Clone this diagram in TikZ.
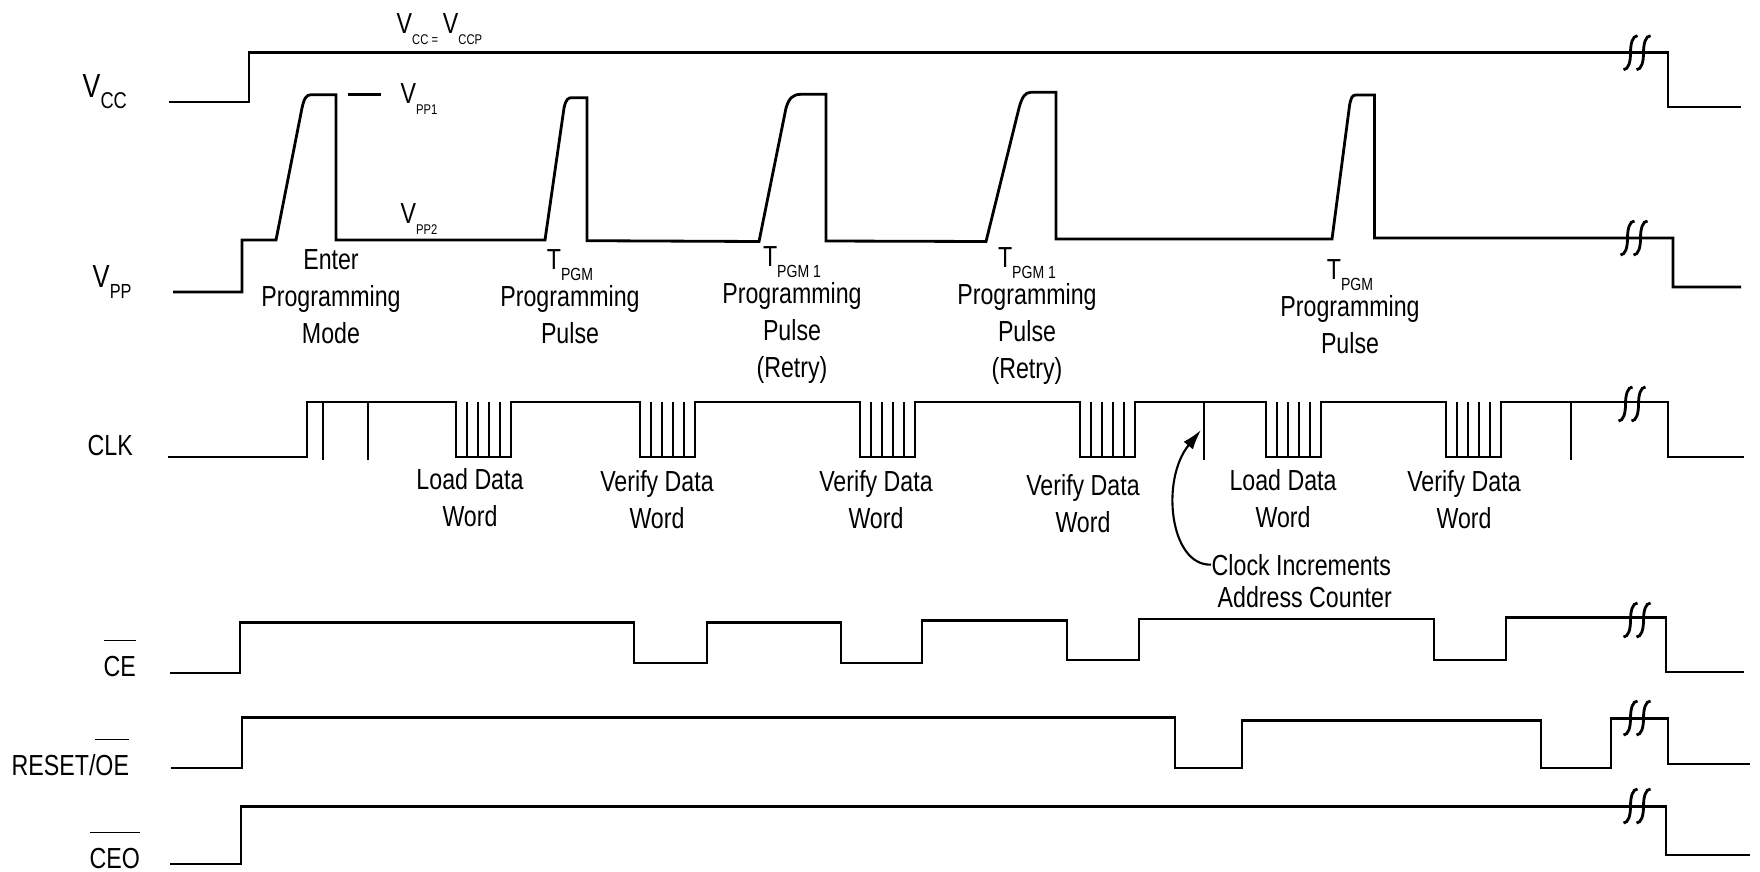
\documentclass[tikz,border=0pt]{standalone}
\usepackage{fontspec}
\setmainfont[FakeStretch=0.8]{Liberation Sans}
\usepackage{tikz}
\usetikzlibrary{arrows.meta}
\newcommand{\dn}[2][4.5]{\raisebox{-1.1mm}{\fontsize{#1}{#1}\selectfont #2}}
\newcommand{\ovl}[1]{$\overline{\mbox{#1}\rule{0pt}{1.05em}}$}
\tikzset{
	wave/.style={line width=0.8pt},
	tick/.style={line width=0.5pt},
	brk/.pic={\foreach \s in {-6.5,6.5} \draw[wave] (\s-7,17) .. controls (\s-2,17) and (\s,9) .. (\s,0) .. controls (\s,-9) and (\s+2,-17) .. (\s+7,-17);},
	lbl/.style={inner sep=0pt, font=\fontsize{8.25}{10.5}\selectfont, align=center, anchor=base},
	sig/.style={inner sep=0pt, font=\fontsize{8.25}{10.5}\selectfont, anchor=base west}
}
\begin{document}
\begin{tikzpicture}[x=0.1mm, y=-0.1mm]
	\useasboundingbox (0,0) rectangle (1760,871);
	% signal names
	\node[sig, font=\fontsize{9.5}{10}\selectfont] (lvcc) at (82,97) {V\dn[6.5]{CC}};
	\node[sig, font=\fontsize{9.1}{10}\selectfont] (lvpp) at (92,287) {V\dn[5.8]{PP}};
	\node[sig] (lclk) at (87,455) {CLK};
	\node[sig] (lce) at (103,676) {\ovl{CE}};
	\node[sig] (lrst) at (11,775) {RESET/\ovl{OE}};
	\node[sig] (lceo) at (89,868) {\ovl{CEO}};
	% VCC
	\draw[wave] (169,102) -- (249,102) -- (249,52.7) -- (1668,52.7) -- (1668,107) -- (1741,107);
	\node[sig] (vccp) at (396,33) {V\dn[4]{CC =}\,V\dn[4]{CCP}};
	% VPP
	\draw[wave] (173,292) -- (242,292) -- (242,240) -- (276,240) -- (302,108) .. controls (304,99) and (306,94.7) .. (311,94.7) -- (336,94.7) -- (336,240)
		-- (545,240) -- (564,108) .. controls (566,99) and (568,97.7) .. (572,97.7) -- (587,97.7) -- (587,240.7)
		-- (759,241.5) -- (786,108) .. controls (789,98) and (793,94.3) .. (801,94.3) -- (826,94.3) -- (826,241)
		-- (986,241.5) -- (1019,108) .. controls (1022,97) and (1025,92.3) .. (1031,92.3) -- (1056,92.3) -- (1056,239)
		-- (1332,239) -- (1349.6,105) .. controls (1351,98) and (1352,95) .. (1356,95) -- (1374.5,95) -- (1374.5,238)
		-- (1673,238) -- (1673,287) -- (1741,287);
	\draw[wave] (348,94.7) -- (381,94.7);
	\node[sig] (vpp1) at (400,103) {V\dn[4]{PP1}};
	\node[sig] (vpp2) at (400,223) {V\dn[4]{PP2}};
	\node[lbl] (tenter) at (331,343) {Enter\\Programming\\Mode};
	\node[lbl] (tpgma) at (570,343) {T\dn[5]{PGM}\\Programming\\Pulse};
	\node[lbl] (tretrya) at (792,377) {T\dn[5]{PGM 1}\\Programming\\Pulse\\(Retry)};
	\node[lbl] (tretryb) at (1027,378) {T\dn[5]{PGM 1}\\Programming\\Pulse\\(Retry)};
	\node[lbl] (tpgmb) at (1350,353) {T\dn[5]{PGM}\\Programming\\Pulse};
	% CLK
	\draw[wave] (168,457) -- (307,457) -- (307,402) -- (456,402) -- (456,457) -- (511,457) -- (511,402)
		-- (640,402) -- (640,457) -- (695,457) -- (695,402) -- (860,402) -- (860,457) -- (915,457) -- (915,402)
		-- (1080,402) -- (1080,457) -- (1135,457) -- (1135,402) -- (1266,402) -- (1266,457) -- (1321,457) -- (1321,402)
		-- (1446,402) -- (1446,457) -- (1501,457) -- (1501,402) -- (1668,402) -- (1668,457) -- (1744,457);
	\foreach \bx in {456,640,860,1080,1266,1446}
		\foreach \i in {1,...,4}
			\draw[tick] (\bx+\i*11,402) -- (\bx+\i*11,457);
	\foreach \tx in {323,368,1204,1571}
		\draw[tick] (\tx,402) -- (\tx,460);
	\node[lbl] (tloada) at (470,526) {Load Data\\Word};
	\node[lbl] (tvera) at (657,528) {Verify Data\\Word};
	\node[lbl] (tverb) at (876,528) {Verify Data\\Word};
	\node[lbl] (tverc) at (1083,532) {Verify Data\\Word};
	\node[lbl] (tloadb) at (1283,527) {Load Data\\Word};
	\node[lbl] (tverd) at (1464,528) {Verify Data\\Word};
	\coordinate (inc) at (1201,430);
	\node[sig] (incr) at (1211,575) {Clock Increments};
	\node[sig] (addr) at (1217,607) {Address Counter};
	\draw[line width=0.6pt, -{Latex[length=2mm,width=1.2mm]}] (incr.west) .. controls (1170,566) and (1160,480) .. (inc);
	% CE
	\draw[wave] (170,673) -- (240,673) -- (240,622.7) -- (634,622.7) -- (634,663) -- (707,663) -- (707,622.7)
		-- (841,622.7) -- (841,663) -- (922,663) -- (922,620.7) -- (1067,620.7) -- (1067,660) -- (1139,660) -- (1139,619)
		-- (1434,619) -- (1434,660) -- (1506,660) -- (1506,617.3) -- (1666,617.3) -- (1666,672) -- (1744,672);
	% RESET/OE
	\draw[wave] (171,768) -- (242,768) -- (242,717.3) -- (1175,717.3) -- (1175,768) -- (1242,768) -- (1242,720.7)
		-- (1541,720.7) -- (1541,768) -- (1611,768) -- (1611,718.3) -- (1668,718.3) -- (1668,764) -- (1750,764);
	% CEO
	\draw[wave] (170,864) -- (241,864) -- (241,806.7) -- (1666,806.7) -- (1666,855) -- (1750,855);
	% breaks
	\pic at (1637,52.7) {brk};
	\pic at (1634,238) {brk};
	\pic at (1632,404) {brk};
	\pic at (1637,620) {brk};
	\pic at (1637,718) {brk};
	\pic at (1637,806) {brk};
\end{tikzpicture}
\end{document}
